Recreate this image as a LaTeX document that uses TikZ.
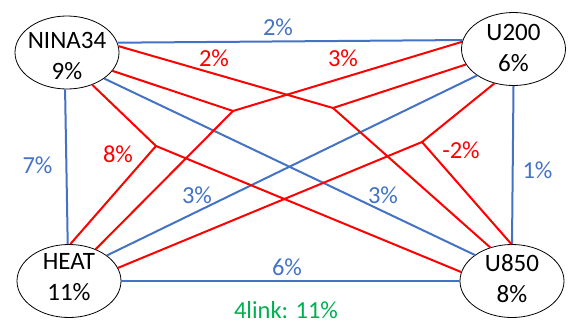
\documentclass[tikz,border=0pt]{standalone}
\usepackage{fontspec}
\setmainfont{Carlito}
\usetikzlibrary{shapes.geometric}
\definecolor{cblue}{HTML}{4472C4}
\definecolor{cred}{HTML}{FF0000}
\definecolor{cgreen}{HTML}{00B050}
\begin{document}
\begin{tikzpicture}[x=1pt,y=-1pt,
  ell/.style={draw=black, line width=0.8pt, ellipse, minimum width=104pt, minimum height=73pt, inner sep=0pt, fill=white},
  ntext/.style={font=\fontsize{25}{31}\selectfont, align=center, inner sep=0pt},
  lbl/.style={font=\fontsize{24.5}{29}\selectfont, inner sep=0pt},
  bl/.style={draw=cblue, line width=2pt},
  rd/.style={draw=cred, line width=2pt}]
\useasboundingbox (0,0) rectangle (581,327);
% nodes
\node[ell] (nina) at (67,52.5) {};
\node[ell] (u200) at (513.5,49) {};
\node[ell] (heat) at (69,281) {};
\node[ell] (u850) at (512,281) {};
\node[ntext] (ninat) at (67,55.5) {NINA34\\9\%};
\node[ntext] (u200t) at (513.5,48) {U200\\6\%};
\node[ntext] (heatt) at (69,277.5) {HEAT\\11\%};
\node[ntext] (u850t) at (512,278.5) {U850\\8\%};
% junctions
\coordinate (j1) at (233,111);
\coordinate (j2) at (333,108);
\coordinate (j3) at (156,146);
\coordinate (j4) at (422,142);
% blue links
\draw[bl] (nina.11) -- (u200.170);
\draw[bl] (nina.-93) -- (heat.92);
\draw[bl] (nina.-35) -- (u850.145);
\draw[bl] (u200.216) -- (heat.34);
\draw[bl] (u200.-90) -- (u850.90);
\draw[bl] (heat.0) -- (u850.180);
% red three-way links
\draw[rd] (nina.-22) -- (j1) -- (u200.172);
\draw[rd] (j1) -- (heat.50);
\draw[rd] (nina.7.5) -- (j2) -- (u200.198);
\draw[rd] (j2) -- (u850.123);
\draw[rd] (nina.-52) -- (j3) -- (heat.88);
\draw[rd] (j3) -- (u850.170);
\draw[rd] (u200.241) -- (j4) -- (heat.15);
\draw[rd] (j4) -- (u850.91);
% labels
\node[lbl, text=cblue] (l1) at (278,27) {2\%};
\node[lbl, text=cred] (l2) at (214,58) {2\%};
\node[lbl, text=cred] (l3) at (343,58) {3\%};
\node[lbl, text=cblue] (l4) at (37.5,165) {7\%};
\node[lbl, text=cred] (l5) at (118,154) {8\%};
\node[lbl, text=cblue] (l6) at (197,195) {3\%};
\node[lbl, text=cblue] (l7) at (383,195) {3\%};
\node[lbl, text=cred] (l8) at (461,150) {-2\%};
\node[lbl, text=cblue] (l9) at (537.5,170) {1\%};
\node[lbl, text=cblue] (l10) at (287,267) {6\%};
\node[lbl, text=cgreen] (l11) at (286,310) {4link: 11\%};
\end{tikzpicture}
\end{document}
